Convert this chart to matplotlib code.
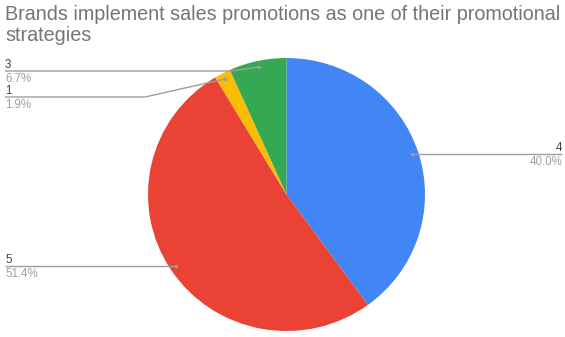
import numpy as np
import matplotlib
matplotlib.use("Agg")
import matplotlib.pyplot as plt

plt.rcParams['font.family'] = ['Liberation Sans', 'DejaVu Sans']

title = "Brands implement sales promotions as one of their promotional\nstrategies"
categories = ["4", "5", "1", "3"]
shares = [40.0, 51.4, 1.9, 6.7]
colors = ["#4285F4", "#EA4335", "#FBBC04", "#34A853"]

W, H = 565, 337
fig = plt.figure(figsize=(W / 100, H / 100), dpi=100)

# pie area in pixel units (centre and radii)
cx, cy, rx, ry = 286.5, 194.5, 138.5, 136.5
pie_ax = fig.add_axes([(cx - rx) / W, (H - cy - ry) / H, 2 * rx / W, 2 * ry / H])
pie_ax.pie(shares, colors=colors, startangle=90, counterclock=False,
           radius=1.0, wedgeprops=dict(linewidth=0))
pie_ax.set_xlim(-1, 1)
pie_ax.set_ylim(-1, 1)
pie_ax.set_aspect('auto')
pie_ax.axis('off')

# overlay in pixel coordinates for title and callouts
ov = fig.add_axes([0, 0, 1, 1], zorder=5)
ov.set_xlim(0, W)
ov.set_ylim(H, 0)
ov.axis('off')
ov.patch.set_alpha(0)

ov.text(5, 5.5, title, ha='left', va='top', fontsize=14.2, color='#757575',
        linespacing=1.12)

# anchor point of each slice on its mid angle
total = sum(shares)
cum = np.cumsum([0] + shares[:-1])
mids = 90 - (cum + np.array(shares) / 2) / total * 360
anchors = [(cx + 0.955 * rx * np.cos(np.radians(a)),
            cy - 0.955 * ry * np.sin(np.radians(a))) for a in mids]

line_col = '#9e9e9e'
# callout layout: (text x, align, line y or None for level with the dot, elbow x)
layout = {
    "4": (562, 'right', None, None),
    "5": (5, 'left', None, None),
    "1": (5, 'left', 97, 145),
    "3": (5, 'left', 71, 230),
}
for cat, share, (px, py) in zip(categories, shares, anchors):
    tx, ha, ly, elbow = layout[cat]
    if ly is None:
        ly = py
        xs, ys = [tx, px], [ly, py]
    else:
        xs, ys = [tx, elbow, px], [ly, ly, py]
    ov.plot(xs, ys, color=line_col, lw=1.0, solid_capstyle='butt')
    ov.plot(px, py, 'o', ms=2.5, color='#9e9e9e', mec='none')
    ov.text(tx, ly - 0.5, cat, ha=ha, va='bottom', fontsize=8.3, color='#444444')
    ov.text(tx, ly + 1.5, f"{share:.1f}%", ha=ha, va='top', fontsize=8.3, color='#a0a0a0')

fig.savefig("out.png", dpi=100, facecolor='white')
